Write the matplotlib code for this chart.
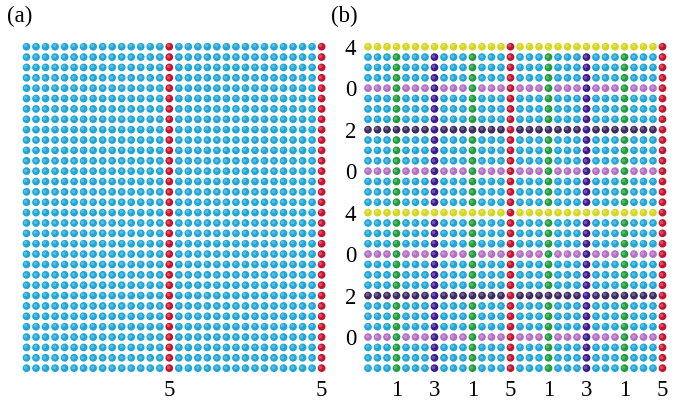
import numpy as np
import matplotlib
matplotlib.use("Agg")
import matplotlib.pyplot as plt

plt.rcParams['font.family'] = ['Liberation Serif', 'DejaVu Serif']

n_rows = 32
n_cols = 32

# panel (a): marked columns and their labels
a_col_idx = [15, 31]
a_col_vals = [5, 5]

# panel (b): marked columns / rows and their labels
b_col_idx = [3, 7, 11, 15, 19, 23, 27, 31]
b_col_vals = [1, 3, 1, 5, 1, 3, 1, 5]
b_row_idx = [0, 4, 8, 12, 16, 20, 24, 28]
b_row_vals = [4, 0, 2, 0, 4, 0, 2, 0]

# colour for each value (-1 = unmarked)
val_colors = {-1: '#1ea6d8', 0: '#b46ec4', 1: '#1e9c3e', 2: '#3e2a62',
              3: '#3e1a92', 4: '#d6d61e', 5: '#c41430'}

W, H = 681, 403
fig = plt.figure(figsize=(W / 100, H / 100), dpi=100)

row_top, row_step = 46.7, 10.37
FS = 16.5


def make_axes(col0, col_step):
    left = col0 - col_step / 2
    right = col0 + (n_cols - 0.5) * col_step
    top = row_top - row_step / 2
    bottom = row_top + (n_rows - 0.5) * row_step
    ax = fig.add_axes([left / W, 1 - bottom / H, (right - left) / W, (bottom - top) / H])
    ax.set_xlim(-0.5, n_cols - 0.5)
    ax.set_ylim(n_rows - 0.5, -0.5)
    for s in ax.spines.values():
        s.set_visible(False)
    ax.tick_params(length=0, labelsize=FS)
    ax.tick_params(axis='x', pad=5)
    return ax


def draw_grid(ax, col_idx, col_vals, row_idx, row_vals):
    cv = np.full(n_cols, -1)
    cv[col_idx] = col_vals
    rv = np.full(n_rows, -1)
    rv[row_idx] = row_vals
    vals = np.maximum(rv[:, None], cv[None, :])
    rr, cc = np.mgrid[0:n_rows, 0:n_cols]
    cols = [val_colors[v] for v in vals.ravel()]
    ax.scatter(cc.ravel(), rr.ravel(), s=31, c=cols, linewidths=0)
    # specular highlight for sphere look
    ax.scatter(cc.ravel() - 0.12, rr.ravel() - 0.12, s=7, c='white', alpha=0.25, linewidths=0)
    ax.set_xticks(col_idx, [str(v) for v in col_vals])
    ax.set_yticks(row_idx, [str(v) for v in row_vals])


ax_a = make_axes(26.5, 9.52)
draw_grid(ax_a, a_col_idx, a_col_vals, [], [])

ax_b = make_axes(368.0, 9.5)
draw_grid(ax_b, b_col_idx, b_col_vals, b_row_idx, b_row_vals)
ax_b.tick_params(axis='y', pad=5)

fig.text(7 / W, 1 - 16 / H, '(a)', fontsize=FS, va='center', ha='left')
fig.text(331 / W, 1 - 16 / H, '(b)', fontsize=FS, va='center', ha='left')

fig.savefig('out.png', dpi=100)
